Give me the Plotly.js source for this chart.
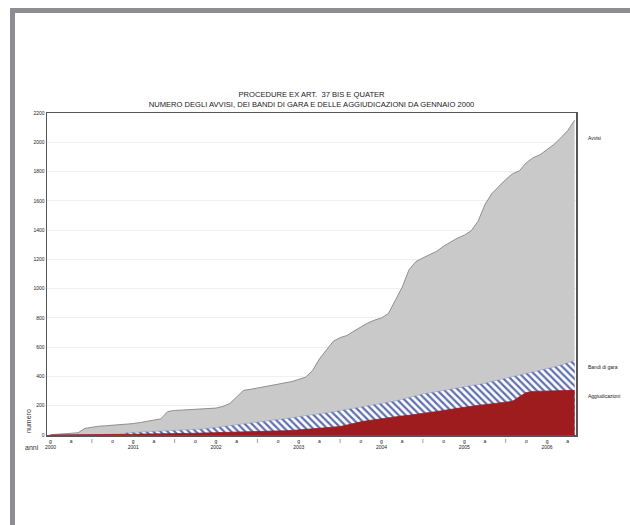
<!DOCTYPE html>
<html>
<head>
<meta charset="utf-8">
<script src="https://cdn.plot.ly/plotly-3.0.1.min.js"></script>
<style>
  html, body { margin: 0; padding: 0; background: #ffffff; }
  #wrap { position: relative; width: 630px; height: 525px; overflow: hidden; }
  #chart { position: absolute; left: 0; top: 0; width: 630px; height: 525px; }
  #frame { position: absolute; left: 10px; top: 8px; width: 625px; height: 520px;
           border-top: 5px solid #8e8e92; border-left: 5px solid #8e8e92; pointer-events: none; }
</style>
</head>
<body>
<div id="wrap"><div id="chart"></div><div id="frame"></div></div>
<script>
// Monthly cumulative counts, January 2000 .. May 2006
const startYear = 2000;
const avvisi = [2,4,6,8,15,45,55,60,63,66,70,75,
  78,85,92,100,110,160,168,170,173,176,178,180,
  184,195,215,260,305,312,320,330,338,345,352,365,
  380,395,440,520,580,640,665,680,710,740,765,785,
  800,830,920,1010,1130,1185,1210,1235,1255,1290,1320,1345,
  1365,1395,1460,1575,1650,1700,1745,1785,1805,1860,1895,1915,
  1950,1985,2030,2080,2150];
const bandi = [0,0,0,0,0,0,0,0,0,0,0,15,
  17,19,21,23,25,28,30,33,36,38,41,46,
  52,57,62,67,72,77,84,91,98,105,112,118,
  125,131,138,145,152,159,167,175,183,192,200,208,
  216,224,232,245,258,270,280,288,296,303,310,318,
  326,334,342,354,366,378,390,400,410,420,430,440,
  452,465,478,495,510];
const aggiudicazioni = [0,0,0,0,0,0,0,0,2,3,4,5,
  5,6,6,7,8,8,9,10,11,12,13,14,
  15,16,17,18,19,20,22,23,25,27,29,31,
  33,38,42,46,50,54,58,68,80,90,98,105,
  112,120,125,130,135,140,145,152,160,168,176,184,
  190,196,202,207,212,218,224,230,262,290,298,300,
  302,303,304,305,305];
const quarterLetters = ["g","a","l","o"];
const years = ["2000","2001","2002","2003","2004","2005","2006"];
const yTicks = [0,200,400,600,800,1000,1200,1400,1600,1800,2000,2200];
const seriesNames = ["Avvisi","Bandi di gara","Aggiudicazioni"];
const titleLines = ["PROCEDURE EX ART.  37 BIS E QUATER",
  "NUMERO DEGLI AVVISI, DEI BANDI DI GARA E DELLE AGGIUDICAZIONI DA GENNAIO 2000"];

const months = avvisi.map((_, i) => i);
const tickvals = [], ticktext = [];
for (let m = 0; m < months.length; m += 3) {
  tickvals.push(m);
  const q = (m % 12) / 3;
  ticktext.push(q === 0 ? quarterLetters[0] + "<br>" + years[m / 12] : quarterLetters[q]);
}

const traces = [
  { x: months, y: avvisi, name: seriesNames[0], type: "scatter", mode: "lines",
    fill: "tozeroy", fillcolor: "#c9c9c9", line: { color: "#8f8f8f", width: 1 } },
  { x: months, y: bandi, name: seriesNames[1], type: "scatter", mode: "lines",
    fill: "tozeroy", fillcolor: "#ffffff",
    fillpattern: { shape: "\\", bgcolor: "#ffffff", fgcolor: "#5d6fb3", size: 5, solidity: 0.45 },
    line: { color: "#8a98c8", width: 0.5 } },
  { x: months, y: aggiudicazioni, name: seriesNames[2], type: "scatter", mode: "lines",
    fill: "tozeroy", fillcolor: "#9e1b1e", line: { color: "#9e1b1e", width: 0.8 } }
];

const lblFont = { family: "Liberation Sans, Arial, sans-serif", size: 5, color: "#222" };
const annotations = [
  { text: seriesNames[0], x: 1.018, xref: "paper", y: avvisi[avvisi.length - 1] - 120, yref: "y", xanchor: "left", showarrow: false, font: lblFont },
  { text: seriesNames[1], x: 1.018, xref: "paper", y: bandi[bandi.length - 1] - 45, yref: "y", xanchor: "left", showarrow: false, font: lblFont },
  { text: seriesNames[2], x: 1.018, xref: "paper", y: aggiudicazioni[aggiudicazioni.length - 1] - 40, yref: "y", xanchor: "left", showarrow: false, font: lblFont },
  { text: "numero", textangle: -90, x: -0.036, xref: "paper", y: 0, yref: "paper", yanchor: "bottom", xanchor: "center", showarrow: false,
    font: { family: "Liberation Sans, Arial, sans-serif", size: 7, color: "#333" } },
  { text: "anni", x: -0.012, xref: "paper", y: -0.04, yref: "paper", xanchor: "right", yanchor: "middle", showarrow: false,
    font: { family: "Liberation Sans, Arial, sans-serif", size: 7, color: "#333" } }
];

const layout = {
  width: 630, height: 525,
  margin: { l: 47, r: 54, t: 113, b: 90, pad: 0 },
  paper_bgcolor: "rgba(0,0,0,0)", plot_bgcolor: "#ffffff",
  showlegend: false,
  title: { text: titleLines.join("<br>"), x: 0.4945, xanchor: "center", y: 0.815, yanchor: "middle",
    font: { family: "Liberation Sans, Arial, sans-serif", size: 7.6, color: "#1a1a1a" } },
  xaxis: { range: [-0.5, 76.2], tickvals: tickvals, ticktext: ticktext, ticks: "",
    showgrid: false, zeroline: false, showline: true, mirror: true, linecolor: "#555", linewidth: 1.5,
    tickfont: lblFont, fixedrange: true },
  yaxis: { range: [0, 2200], tickvals: yTicks, ticks: "", showgrid: true, gridcolor: "#efefef", gridwidth: 1,
    zeroline: false, showline: true, mirror: true, linecolor: "#555", linewidth: 1.5,
    tickfont: lblFont, fixedrange: true },
  annotations: annotations
};

Plotly.newPlot("chart", traces, layout, { displayModeBar: false, staticPlot: true });
</script>
</body>
</html>
